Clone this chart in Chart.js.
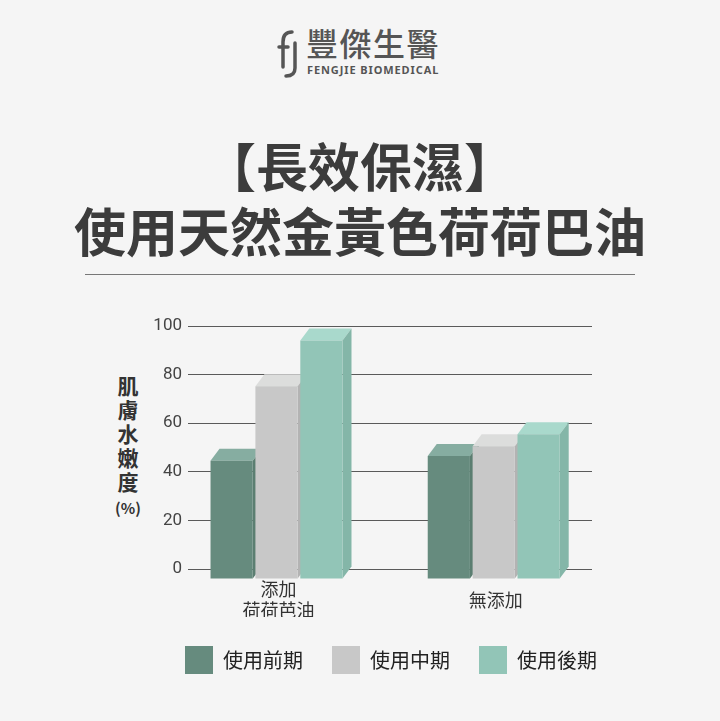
<!DOCTYPE html>
<html>
<head>
<meta charset="utf-8">
<script src="https://cdn.jsdelivr.net/npm/chart.js@4/dist/chart.umd.min.js"></script>
<style>
  html, body { margin: 0; padding: 0; }
  body { width: 720px; height: 721px; background: #f5f5f5; position: relative; overflow: hidden;
         font-family: "Noto Sans CJK TC", "Noto Sans", sans-serif; }
  .abs { position: absolute; }
  .brand { left: 306px; top: 25px; font-size: 32px; line-height: 34px; color: #555; font-weight: 500; letter-spacing: 1.5px; }
  .brand-en { left: 307px; top: 64px; font-family: "Noto Sans", sans-serif; font-size: 11px; line-height: 12px;
              font-weight: 700; color: #555; letter-spacing: 0.9px; }
  .title { left: 0; width: 720px; text-align: center; font-size: 52px; line-height: 52px; color: #3c3c3c; font-weight: 700; }
  .rule { left: 85px; top: 274px; width: 550px; height: 1px; background: #777; }
  .ytitle { left: 104px; top: 373px; width: 48px; text-align: center; font-size: 21px; line-height: 24px;
            font-weight: 700; color: #333; }
  .ytitle span { font-size: 15px; }
  #wrap { position: absolute; left: 0; top: 300px; width: 720px; height: 421px; }
</style>
</head>
<body>
<svg class="abs" style="left:0;top:0" width="720" height="90">
  <g fill="none" stroke="#555" stroke-width="3.5" stroke-linecap="round">
    <path d="M292 32 Q283 32 283 42 L283 67"/>
    <path d="M279 47 L288 47"/>
    <path d="M295 43 L295 68 Q295 76 286 76"/>
  </g>
</svg>
<div class="abs brand">豐傑生醫</div>
<div class="abs brand-en">FENGJIE BIOMEDICAL</div>
<div class="abs title" style="top:139px">【長效保濕】</div>
<div class="abs title" style="top:204px">使用天然金黃色荷荷巴油</div>
<div class="abs rule"></div>
<div class="abs ytitle">肌<br>膚<br>水<br>嫩<br>度<br><span>(%)</span></div>
<div id="wrap"><canvas id="chart"></canvas></div>
<script>
const categories = [["添加", "荷荷芭油"], "無添加"];
const seriesNames = ["使用前期", "使用中期", "使用後期"];
const earlyValues = [49, 51];
const midValues = [80, 55];
const lateValues = [99, 60];
const yTicks = [0, 20, 40, 60, 80, 100];

const frontColors = ["#668b7e", "#c8c8c8", "#92c5b7"];
const topColors = ["#86ada1", "#dcdddc", "#a9d9cc"];
const sideColors = ["#5b7e71", "#b3b3b3", "#84b6a8"];
const DX = 9, DY = 12;

// top and right faces of the columns, painted left to right before the front faces
const depth3d = {
  id: "depth3d",
  beforeDatasetsDraw(chart) {
    const ctx = chart.ctx;
    chart.data.datasets.forEach((ds, i) => {
      chart.getDatasetMeta(i).data.forEach((bar) => {
        const { x, y, base, width } = bar.getProps(["x", "y", "base", "width"], true);
        const l = x - width / 2, r = x + width / 2;
        ctx.save();
        ctx.fillStyle = topColors[i];
        ctx.beginPath();
        ctx.moveTo(l, y); ctx.lineTo(l + DX, y - DY); ctx.lineTo(r + DX, y - DY); ctx.lineTo(r, y);
        ctx.closePath(); ctx.fill();
        ctx.fillStyle = sideColors[i];
        ctx.beginPath();
        ctx.moveTo(r, y); ctx.lineTo(r + DX, y - DY); ctx.lineTo(r + DX, base - DY); ctx.lineTo(r, base);
        ctx.closePath(); ctx.fill();
        ctx.restore();
      });
    });
  },
};

const allValues = [earlyValues, midValues, lateValues];
const datasets = seriesNames.map((name, i) => ({
  label: name,
  data: allValues[i].map((v, k) => ({ x: k, y: v })),
  backgroundColor: frontColors[i],
  borderWidth: 0,
  yAxisID: "yBar",
  clip: false,
  barPercentage: 0.94,
  categoryPercentage: 0.62,
}));

new Chart(document.getElementById("chart"), {
  type: "bar",
  data: { datasets },
  plugins: [depth3d],
  options: {
    responsive: true,
    maintainAspectRatio: false,
    animation: false,
    layout: { padding: { left: 62, right: 0, top: 26, bottom: 37 } },
    plugins: {
      tooltip: { enabled: false },
      legend: {
        position: "bottom",
        labels: {
          boxWidth: 28,
          boxHeight: 28,
          padding: 29,
          color: "#222",
          font: { family: "'Noto Sans CJK TC'", size: 20 },
        },
      },
    },
    scales: {
      x: {
        type: "linear",
        offset: false,
        min: -0.4075,
        max: 1.4525,
        grid: { display: false },
        border: { display: false },
        afterFit: (s) => { s.height = 48; },
        ticks: {
          stepSize: 1,
          includeBounds: false,
          padding: 12,
          labelOffset: 2,
          color: "#333",
          font: { family: "'Noto Sans CJK TC'", size: 18 },
          crossAlign: "center",
          callback: (v) => (Number.isInteger(v) && categories[v] !== undefined ? categories[v] : ""),
        },
      },
      y: {
        position: "left",
        min: 0,
        max: 100,
        afterFit: (s) => { s.width = 126; },
        afterBuildTicks: (s) => { s.ticks = yTicks.map((v) => ({ value: v })); },
        grid: { color: "#5a5a5a", lineWidth: 1, drawTicks: false },
        border: { display: false },
        ticks: {
          padding: 6,
          color: "#444",
          font: { family: "Roboto", size: 17 },
        },
      },
      yBar: {
        position: "right",
        min: 4,
        max: 105,
        afterFit: (s) => { s.width = 128; },
        grid: { display: false },
        border: { display: false },
        ticks: { display: false },
      },
    },
  },
});
</script>
</body>
</html>
